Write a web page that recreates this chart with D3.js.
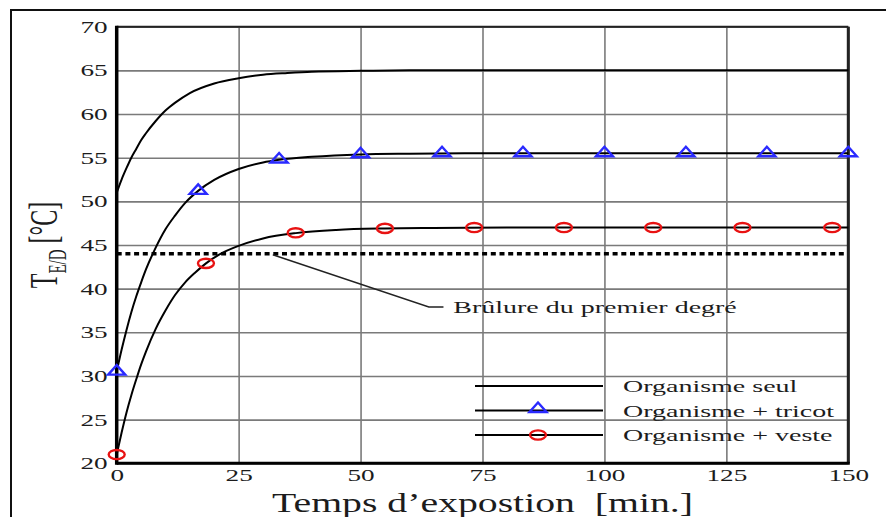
<!DOCTYPE html>
<html><head><meta charset="utf-8">
<script src="https://cdn.jsdelivr.net/npm/d3@7"></script>
<style>
html,body{margin:0;padding:0;background:#fff;}
svg{display:block;font-family:"Liberation Serif","Times New Roman",serif;}
</style></head>
<body><svg id="chart"></svg>
<script>
const W=886,H=517;
// curves
const seulT=[0,1,2,3,4,5,6,8,10,12,15,20,25,30,35,40,50,60,75,100,125,150];
const seulV=[51,52.5,53.8,55.0,56.0,57.0,57.8,59.2,60.4,61.3,62.4,63.5,64.1,64.5,64.7,64.85,64.95,65,65,65,65,65];
const tricotT=[0,1,2,3,4,5,6,8,10,12,14,16.7,20,25,30,33.3,40,50,60,75,100,125,150];
const tricotV=[30.5,33.0,35.25,37.3,39.1,40.7,42.2,44.7,46.8,48.4,49.8,51.2,52.45,53.7,54.45,54.75,55.1,55.37,55.45,55.5,55.5,55.5,55.5];
const vesteT=[0,1,2,3,4,5,6,8,10,12,14,16,18.3,21,25,30,36.7,45,55,65,80,100,125,150];
const vesteV=[21,23.5,25.8,27.8,29.6,31.3,32.8,35.4,37.5,39.3,40.7,41.8,42.9,43.9,44.9,45.75,46.36,46.73,46.9,46.96,47,47,47,47];
// markers
const tricotMkT=[0,16.7,33.3,50,66.7,83.3,100,116.7,133.3,150];
const tricotMkV=[30.5,51.2,54.8,55.4,55.5,55.5,55.5,55.5,55.5,55.5];
const vesteMkT=[0,18.3,36.7,55,73.3,91.7,110,128.3,146.7];
const vesteMkV=[21,42.9,46.4,46.9,47,47,47,47,47];
const burnLevel=44;
const xTicks=[0,25,50,75,100,125,150];
const yTicks=[20,25,30,35,40,45,50,55,60,65,70];
const legendLabels=['Organisme seul','Organisme + tricot','Organisme + veste'];
const txtCol='#1c1c1c';

const svg=d3.select('#chart').attr('width',W).attr('height',H);
const m={l:116.7,r:848.3,t:26.7,b:463.3};
const x=d3.scaleLinear().domain([0,150]).range([m.l,m.r]);
const y=d3.scaleLinear().domain([20,70]).range([m.b,m.t]);

// outer frame
svg.append('path').attr('d',`M11,${H}V10H${W}`).attr('fill','none').attr('stroke','#111').attr('stroke-width',2);

// grid
const gGrid=svg.append('g');
gGrid.append('g').attr('transform',`translate(0,${m.b})`)
  .call(d3.axisBottom(x).tickValues(xTicks).tickSize(-(m.b-m.t)).tickFormat(''))
  .call(g=>g.select('.domain').remove());
gGrid.append('g').attr('transform',`translate(${m.l},0)`)
  .call(d3.axisLeft(y).tickValues(yTicks).tickSize(-(m.r-m.l)).tickFormat(''))
  .call(g=>g.select('.domain').remove());
gGrid.selectAll('line').attr('stroke','#7a7a7a').attr('stroke-width',1.6);

// tick labels
const SX=1.6;
const gx=svg.append('g').attr('transform',`translate(0,${m.b})`)
  .call(d3.axisBottom(x).tickValues(xTicks).tickSize(0).tickPadding(6));
gx.select('.domain').remove();
gx.selectAll('text').attr('font-size',17).attr('font-family','Liberation Serif').attr('fill',txtCol)
  .attr('transform',`scale(${SX},1)`);
const gy=svg.append('g').attr('transform',`translate(${m.l},0)`)
  .call(d3.axisLeft(y).tickValues(yTicks).tickSize(0).tickPadding(9));
gy.select('.domain').remove();
gy.selectAll('text').attr('font-size',17).attr('font-family','Liberation Serif').attr('fill',txtCol)
  .attr('x',-9/SX).attr('transform',`scale(${SX},1)`);

// burn threshold
svg.append('line').attr('x1',x(0)).attr('x2',x(150)).attr('y1',y(burnLevel)).attr('y2',y(burnLevel))
  .attr('stroke','#000').attr('stroke-width',3.6).attr('stroke-dasharray','5,3.7');

// frame
svg.append('line').attr('x1',m.l).attr('x2',m.r).attr('y1',m.t).attr('y2',m.t).attr('stroke','#222').attr('stroke-width',2);
svg.append('line').attr('x1',m.r).attr('x2',m.r).attr('y1',m.t).attr('y2',m.b).attr('stroke','#222').attr('stroke-width',3);
svg.append('line').attr('x1',m.l).attr('x2',m.r+1.5).attr('y1',m.b).attr('y2',m.b).attr('stroke','#000').attr('stroke-width',3);
svg.append('line').attr('x1',m.l).attr('x2',m.l).attr('y1',m.t-1).attr('y2',m.b+1.5).attr('stroke','#000').attr('stroke-width',3.5);

// curves
const line=d3.line().x(d=>x(d[0])).y(d=>y(d[1])).curve(d3.curveMonotoneX);
[[seulT,seulV],[tricotT,tricotV],[vesteT,vesteV]].forEach(([ts,vs])=>{
  svg.append('path').datum(ts.map((t,i)=>[t,vs[i]])).attr('d',line)
    .attr('fill','none').attr('stroke','#000').attr('stroke-width',2);
});

// markers
const triPath='M0,-6.5L8.5,3L-8.5,3Z';
const triCol='#2a2aff', cirCol='#e81212';
svg.append('g').selectAll('path').data(tricotMkT.map((t,i)=>[t,tricotMkV[i]])).join('path')
  .attr('d',triPath).attr('transform',d=>`translate(${x(d[0])},${y(d[1])})`)
  .attr('fill','none').attr('stroke',triCol).attr('stroke-width',2.4);
svg.append('g').selectAll('ellipse').data(vesteMkT.map((t,i)=>[t,vesteMkV[i]])).join('ellipse')
  .attr('cx',d=>x(d[0])).attr('cy',d=>y(d[1])).attr('rx',8).attr('ry',4.6)
  .attr('fill','none').attr('stroke',cirCol).attr('stroke-width',2.4);

// annotation
svg.append('path').attr('d',`M${x(32)},${y(burnLevel)+1}L${x(64)},${y(37.9)}H${x(67)}`)
  .attr('fill','none').attr('stroke','#222').attr('stroke-width',1.4);
function stext(px,py,txt,size,sx,anchor){
  return svg.append('g').attr('transform',`translate(${px},${py}) scale(${sx},1)`)
    .append('text').attr('font-size',size).attr('fill',txtCol).attr('text-anchor',anchor||'start').text(txt);
}
stext(x(69),y(37.9)+6,'Brûlure du premier degré',17.5,1.6);

// legend
const legY=[386,410.5,435];
legY.forEach((ly,i)=>{
  svg.append('line').attr('x1',475).attr('x2',603).attr('y1',ly).attr('y2',ly).attr('stroke','#000').attr('stroke-width',2);
  if(i===1) svg.append('path').attr('d',triPath).attr('transform',`translate(538,${ly-1.5})`)
    .attr('fill','none').attr('stroke',triCol).attr('stroke-width',2.4);
  if(i===2) svg.append('ellipse').attr('cx',538).attr('cy',ly).attr('rx',8).attr('ry',4.6)
    .attr('fill','none').attr('stroke',cirCol).attr('stroke-width',2.4);
  stext(623,ly+6,legendLabels[i],17.5,1.6);
});

// axis titles
stext((m.l+m.r)/2,512,'Temps d\u2019expostion\u00a0 [min.]',26.5,1.5,'middle');
const yt=svg.append('g').attr('transform','translate(57,245) rotate(-90) scale(1,1.7)')
  .append('text').attr('font-size',24).attr('fill',txtCol).attr('text-anchor','middle');
yt.append('tspan').text('T');
yt.append('tspan').attr('font-size',15).attr('dy',5).text('E/D');
yt.append('tspan').attr('dy',-5).text(' [°C]');
</script></body></html>
